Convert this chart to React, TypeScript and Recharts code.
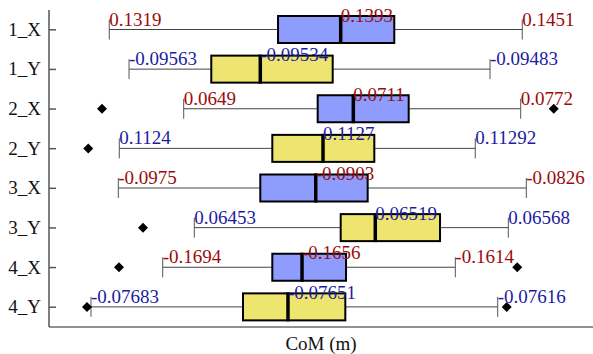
import React from 'react';
import { ComposedChart, Bar, XAxis, YAxis } from 'recharts';

// each row sits on its own scale, so positions are relative (0-100) along the axis
const categories = ['1_X', '1_Y', '2_X', '2_Y', '3_X', '3_Y', '4_X', '4_Y'];
const mins = [11.08, 14.71, 24.76, 12.92, 12.74, 26.71, 20.9, 7.72];
const q1s = [42.1, 29.83, 49.39, 41.05, 38.84, 53.62, 41.05, 35.66];
const medians = [53.62, 38.84, 55.94, 50.37, 49.03, 59.98, 46.51, 43.93];
const q3s = [63.47, 52.15, 66.12, 59.8, 58.58, 71.88, 54.6, 54.47];
const maxs = [87.0, 81.07, 86.71, 78.36, 87.74, 84.43, 74.69, 82.48];
const outliers: number[][] = [[], [], [9.74, 92.78], [7.22], [], [17.28], [12.87, 86.08], [6.99, 84.14]];

const minLabels = ['0.1319', '-0.09563', '0.0649', '0.1124', '-0.0975', '0.06453', '-0.1694', '-0.07683'];
const medianLabels = ['0.1393', '-0.09534', '0.0711', '0.1127', '-0.0903', '0.06519', '-0.1656', '-0.07651'];
const maxLabels = ['0.1451', '-0.09483', '0.0772', '0.11292', '-0.0826', '0.06568', '-0.1614', '-0.07616'];

const data = categories.map((name, i) => ({
  name,
  min: mins[i],
  q1: q1s[i],
  median: medians[i],
  q3: q3s[i],
  max: maxs[i],
  outliers: outliers[i],
  minLabel: minLabels[i],
  medianLabel: medianLabels[i],
  maxLabel: maxLabels[i],
  axis: name.endsWith('X') ? 'X' : 'Y',
}));

const FONT = '"Liberation Serif", "Times New Roman", serif';
const BOX_FILL = { X: '#8e9cfd', Y: '#ede56f' };
const TEXT_FILL = { X: '#9a0c0c', Y: '#1c1ca0' };

const BoxShape = (props: any) => {
  const { x, y, width, height, payload } = props;
  if (!payload) return null;
  const k = width / (payload.max - payload.min);
  const px = (v: number) => x + (v - payload.min) * k;
  const cy = y + height / 2;
  const half = height / 2;
  const fill = BOX_FILL[payload.axis as 'X' | 'Y'];
  const tc = TEXT_FILL[payload.axis as 'X' | 'Y'];
  const xMin = px(payload.min);
  const xMax = px(payload.max);
  const xQ1 = px(payload.q1);
  const xQ3 = px(payload.q3);
  const xMed = px(payload.median);
  return (
    <g>
      <line x1={xMin} y1={cy} x2={xQ1} y2={cy} stroke="#444" strokeWidth={1} />
      <line x1={xQ3} y1={cy} x2={xMax} y2={cy} stroke="#444" strokeWidth={1} />
      <line x1={xMin} y1={cy - 10} x2={xMin} y2={cy + 10} stroke="#555" strokeWidth={1} />
      <line x1={xMax} y1={cy - 10} x2={xMax} y2={cy + 10} stroke="#555" strokeWidth={1} />
      <rect x={xQ1} y={cy - half} width={xQ3 - xQ1} height={height} fill={fill} stroke="#000" strokeWidth={2} />
      <line x1={xMed} y1={cy - half - 1} x2={xMed} y2={cy + half + 1} stroke="#000" strokeWidth={3.5} />
      {payload.outliers.map((o: number, j: number) => {
        const ox = px(o);
        return <path key={j} d={`M${ox},${cy - 5}L${ox + 5},${cy}L${ox},${cy + 5}L${ox - 5},${cy}Z`} fill="#000" />;
      })}
      <text x={xMin} y={cy - 4} fill={tc} fontSize={19} fontFamily={FONT}>{payload.minLabel}</text>
      <text x={xMed} y={cy - 8} fill={tc} fontSize={19} fontFamily={FONT}>{payload.medianLabel}</text>
      <text x={xMax} y={cy - 4} fill={tc} fontSize={19} fontFamily={FONT}>{payload.maxLabel}</text>
    </g>
  );
};

const CategoryTick = (props: any) => {
  const { x, y, payload } = props;
  return (
    <g>
      <line x1={x} y1={y} x2={x + 7} y2={y} stroke="#555" strokeWidth={1.5} />
      <text x={x - 8} y={y + 6} textAnchor="end" fontSize={19} fontFamily={FONT} fill="#111">
        {payload.value}
      </text>
    </g>
  );
};

export default function App() {
  return (
    <div style={{ position: 'absolute', left: 0, top: 0, background: '#fff' }}>
      <ComposedChart
        width={593}
        height={354}
        data={data}
        layout="vertical"
        margin={{ top: 10, right: 0, left: 0, bottom: 0 }}
      >
        <XAxis
          type="number"
          domain={[0, 100]}
          tick={false}
          tickLine={false}
          height={27}
          stroke="#222"
          label={{ value: 'CoM (m)', position: 'insideBottom', offset: 4, fontSize: 19, fontFamily: FONT, fill: '#111' }}
        />
        <YAxis
          type="category"
          dataKey="name"
          width={49}
          tickLine={false}
          tickSize={0}
          tickMargin={0}
          tick={<CategoryTick />}
          stroke="#555"
          strokeWidth={1.5}
          interval={0}
        />
        <Bar
          dataKey={(d: any) => [d.min, d.max]}
          barSize={27}
          shape={<BoxShape />}
          isAnimationActive={false}
        />
      </ComposedChart>
    </div>
  );
}
